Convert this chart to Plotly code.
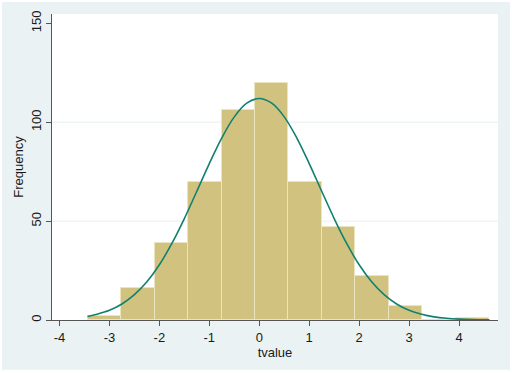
import plotly.graph_objects as go

# Histogram bins
bin_centers = [-3.10, -2.43, -1.76, -1.09, -0.42, 0.25, 0.92, 1.59, 2.26, 2.93, 3.60, 4.27]
bin_width = 0.67
counts = [2, 16, 39, 70, 106, 120, 70, 47, 22, 7, 0, 1]

# Overlay curve
curve_x = [-3.44, -3.25, -3.0, -2.75, -2.5, -2.25, -2.0, -1.75, -1.5, -1.25, -1.0, -0.75, -0.5, -0.25,
           0.0, 0.25, 0.5, 0.75, 1.0, 1.25, 1.5, 1.75, 2.0, 2.25, 2.5, 2.75, 3.0, 3.25, 3.5, 3.75,
           4.0, 4.25, 4.61]
curve_y = [1.8, 2.9, 4.9, 8.1, 12.8, 19.3, 27.9, 38.7, 51.3, 65.1, 79.1, 92.1, 102.7, 109.6,
           112.0, 109.6, 102.7, 92.1, 79.1, 65.1, 51.3, 38.7, 27.9, 19.3, 12.8, 8.1, 4.9, 2.9, 1.6, 0.85,
           0.43, 0.21, 0.07]

x_ticks = [-4, -3, -2, -1, 0, 1, 2, 3, 4]
x_tick_text = ["-4", "-3", "-2", "-1", "0", "1", "2", "3", "4"]
y_ticks = [0, 50, 100, 150]
y_tick_text = ["0", "50", "100", "150"]
grid_vals = [50, 100]

x_range = [-4.15, 4.78]
y_range = [0, 154.7]

FONT = "Liberation Sans, Arial, sans-serif"
AXIS_COL = "#555555"
BG_BLUE = "#eaf2f3"

fig = go.Figure()
fig.add_trace(go.Bar(
    x=bin_centers, y=counts, width=[bin_width] * len(bin_centers),
    marker=dict(color="#d1c37f", line=dict(color="#ebe4c1", width=1)),
    showlegend=False, hoverinfo="skip"))
fig.add_trace(go.Scatter(
    x=curve_x, y=curve_y, mode="lines", line=dict(color="#12806f", width=1.6, shape="spline"),
    showlegend=False, hoverinfo="skip"))

shapes = [
    # light-blue graph region with thin white border
    dict(type="rect", xref="paper", yref="paper", x0=-50 / 446, x1=458 / 446,
         y0=-49.7 / 306.3, y1=318.3 / 306.3, fillcolor=BG_BLUE, line=dict(width=0), layer="below"),
    # white plot region
    dict(type="rect", xref="x domain", yref="y domain", x0=0, x1=1, y0=0, y1=1,
         fillcolor="white", line=dict(width=0), layer="below"),
]
for g in grid_vals:
    shapes.append(dict(type="line", xref="x domain", yref="y", x0=0, x1=1, y0=g, y1=g,
                       line=dict(color="#e6eff1", width=1), layer="below"))

fig.update_layout(
    width=512, height=373,
    margin=dict(l=52, r=14, t=14, b=53),
    paper_bgcolor="white", plot_bgcolor="white",
    bargap=0, shapes=shapes,
    font=dict(family=FONT, size=13, color="#1a1a1a"),
    xaxis=dict(range=x_range, tickmode="array", tickvals=x_ticks, ticktext=x_tick_text,
               ticks="outside", ticklen=5, tickwidth=1, tickcolor=AXIS_COL,
               showline=True, linecolor=AXIS_COL, linewidth=1.2, showgrid=False, zeroline=False,
               title=dict(text="tvalue", standoff=2, font=dict(size=13)),
               automargin=False),
    yaxis=dict(range=y_range, tickmode="array", tickvals=y_ticks, ticktext=y_tick_text,
               ticks="outside", ticklen=5, tickwidth=1, tickcolor=AXIS_COL, tickangle=-90,
               showline=True, linecolor=AXIS_COL, linewidth=1.2, showgrid=False, zeroline=False,
               title=dict(text="Frequency", standoff=2, font=dict(size=13)),
               automargin=False),
)

fig.write_html("out.html", config={"displayModeBar": False},
               post_script="document.body.style.margin='0px';document.body.style.padding='0px';")
